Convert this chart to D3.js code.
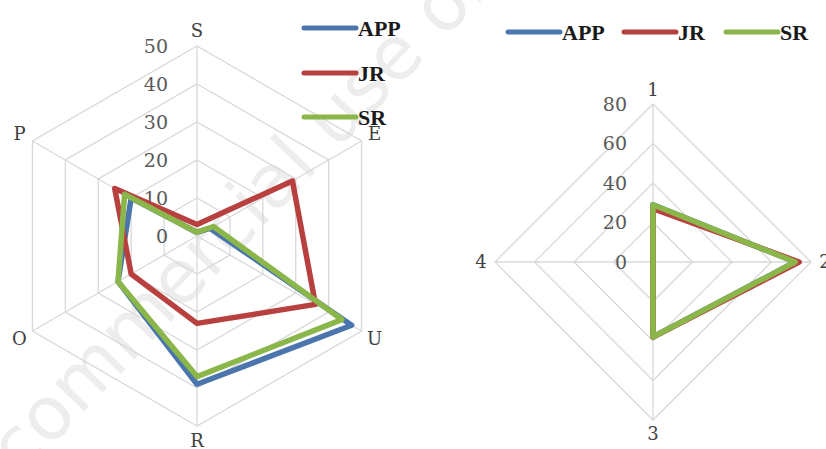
<!DOCTYPE html>
<html>
<head>
<meta charset="utf-8">
<script src="https://cdn.jsdelivr.net/npm/d3@7"></script>
<style>
  html, body { margin: 0; padding: 0; background: #fff; }
  svg { display: block; }
</style>
</head>
<body>
<svg id="chart" width="826" height="449"></svg>
<script>
// Series shared by both radar charts
const seriesNames = ["APP", "JR", "SR"];
const seriesColors = ["#4a76ad", "#b8413f", "#8ab64a"];

// Left radar: six categories, 0–50 scale
const leftAxes = ["S", "E", "U", "R", "O", "P"];
const leftTicks = [0, 10, 20, 30, 40, 50];
const leftApp = [1, 4, 47, 39, 24, 20];
const leftJr = [3, 29, 36, 23, 20, 25];
const leftSr = [1, 5, 44, 37, 24, 22];

// Right radar: four categories, 0–80 scale
const rightAxes = ["1", "2", "3", "4"];
const rightTicks = [0, 20, 40, 60, 80];
const rightApp = [29, 72, 38, 0];
const rightJr = [27, 74, 38, 0];
const rightSr = [29, 72, 38, 0];

const svg = d3.select("#chart");
const serif = "'DejaVu Serif', serif";

svg.append("rect").attr("width", 826).attr("height", 449).attr("fill", "#fff");

// faint diagonal watermark
svg.append("text")
  .attr("transform", "translate(20,478) rotate(-46)")
  .attr("font-family", "'DejaVu Sans', sans-serif")
  .attr("font-size", 74)
  .attr("fill", "#ededed")
  .text("commercial use only");

function radar(opts) {
  const { cx, cy, radius, axes, ticks, data, labelR } = opts;
  const n = axes.length;
  const r = d3.scaleLinear().domain([0, d3.max(ticks)]).range([0, radius]);
  const ang = d3.scaleLinear().domain([0, n]).range([0, 2 * Math.PI]);
  const pt = (v, i) => [cx + r(v) * Math.sin(ang(i)), cy - r(v) * Math.cos(ang(i))];
  const g = svg.append("g");

  // rings
  const ring = d3.line().curve(d3.curveLinearClosed);
  g.selectAll("path.ring").data(ticks.filter(t => t > 0)).join("path")
    .attr("class", "ring")
    .attr("d", t => ring(axes.map((_, i) => pt(t, i))))
    .attr("fill", "none").attr("stroke", "#d9d9d9").attr("stroke-width", 1.3);

  // spokes
  g.selectAll("line.spoke").data(axes).join("line")
    .attr("class", "spoke")
    .attr("x1", cx).attr("y1", cy)
    .attr("x2", (_, i) => pt(d3.max(ticks), i)[0])
    .attr("y2", (_, i) => pt(d3.max(ticks), i)[1])
    .attr("stroke", "#d9d9d9").attr("stroke-width", 1.3);

  // tick labels along the first spoke
  g.selectAll("text.tick").data(ticks).join("text")
    .attr("class", "tick")
    .attr("x", cx + opts.tickDx)
    .attr("y", t => cy - r(t))
    .attr("dy", "0.36em")
    .attr("text-anchor", "end")
    .attr("font-family", serif).attr("font-size", 19)
    .attr("fill", "#595959")
    .text(t => t);

  // series lines
  const line = d3.line().curve(d3.curveLinearClosed);
  data.forEach((vals, s) => {
    g.append("path")
      .attr("d", line(vals.map((v, i) => pt(v, i))))
      .attr("fill", "none")
      .attr("stroke", seriesColors[s])
      .attr("stroke-width", 5.5)
      .attr("stroke-linejoin", "round");
  });

  // category labels
  g.selectAll("text.cat").data(axes).join("text")
    .attr("class", "cat")
    .attr("x", (_, i) => cx + labelR * Math.sin(ang(i)))
    .attr("y", (_, i) => cy - labelR * Math.cos(ang(i)))
    .attr("dy", "0.36em")
    .attr("text-anchor", "middle")
    .attr("font-family", serif).attr("font-size", 18)
    .attr("fill", "#404040")
    .text(d => d);
}

radar({ cx: 197, cy: 236, radius: 190, axes: leftAxes, ticks: leftTicks,
        data: [leftApp, leftJr, leftSr], labelR: 205, tickDx: -29 });
radar({ cx: 653, cy: 262, radius: 158, axes: rightAxes, ticks: rightTicks,
        data: [rightApp, rightJr, rightSr], labelR: 172, tickDx: -26 });

// legends
function legend(items) {
  const g = svg.append("g");
  items.forEach((it, s) => {
    g.append("line")
      .attr("x1", it.x).attr("x2", it.x + 52)
      .attr("y1", it.y).attr("y2", it.y)
      .attr("stroke", seriesColors[s]).attr("stroke-width", 5)
      .attr("stroke-linecap", "round");
    g.append("text")
      .attr("x", it.x + 54).attr("y", it.y)
      .attr("dy", "0.36em")
      .attr("font-family", "'Liberation Serif', serif").attr("font-size", 22).attr("font-weight", "bold")
      .attr("fill", "#1a1a1a")
      .text(seriesNames[s]);
  });
}
legend([{ x: 304, y: 28 }, { x: 304, y: 73 }, { x: 304, y: 117 }]);
legend([{ x: 508, y: 32 }, { x: 624, y: 32 }, { x: 726, y: 32 }]);
</script>
</body>
</html>
